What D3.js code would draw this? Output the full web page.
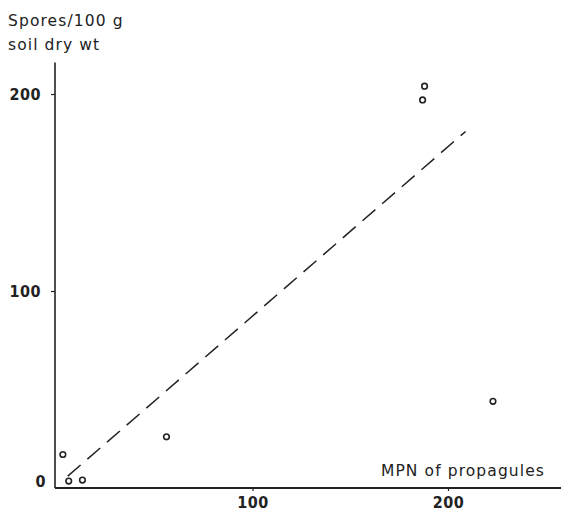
<!DOCTYPE html>
<html lang="en">
<head>
<meta charset="UTF-8">
<title>Spores vs MPN</title>
<style>
	html, body {width: 100%; height: 100%; padding: 0; margin: 0; background: #fff;}
	.title {font-family: "DejaVu Sans", sans-serif; font-size: 15.5px; letter-spacing: 1.1px; fill: #222;}
	.tick text {font-family: "DejaVu Sans Condensed", "Liberation Sans Narrow", sans-serif; font-size: 16px; font-weight: bold; letter-spacing: 0.5px; fill: #222;}
	.tick line {stroke: #222; stroke-width: 1.2px;}
</style>
<script src="https://d3js.org/d3.v7.min.js"></script>
</head>
<body>
<script>
// MPN of propagules (x) vs spores per 100 g soil dry wt (y)
var mpn = [3, 6, 13, 56, 188, 187, 223];
var spores = [17, 3.5, 4, 26, 204, 197, 44];
// regression line end points (data units)
var fitX = [5.5, 209];
var fitY = [6, 181];
var xTicks = [100, 200];
var yTicks = [0, 100, 200];

var width = 561, height = 518;

var svg = d3.select('body').append('svg')
	.attr('width', width)
	.attr('height', height);

var x = d3.scaleLinear().domain([0, 257.8]).range([57, 561]);
var y = d3.scaleLinear().domain([0, 216]).range([488, 62.5]);

// axis lines
svg.append('line')
	.attr('x1', 55).attr('x2', width)
	.attr('y1', y(0)).attr('y2', y(0))
	.attr('stroke', '#222').attr('stroke-width', 1.8);
svg.append('line')
	.attr('x1', 55).attr('x2', 55)
	.attr('y1', y.range()[1]).attr('y2', y(0))
	.attr('stroke', '#222').attr('stroke-width', 1.6);

var xAxis = svg.append('g')
	.attr('transform', 'translate(0,' + y(0) + ')')
	.call(d3.axisBottom(x).tickValues(xTicks).tickSize(3).tickPadding(6).tickFormat(d3.format('d')));
xAxis.select('.domain').remove();

var yAxis = svg.append('g')
	.attr('transform', 'translate(55,0)')
	.call(d3.axisLeft(y).tickValues(yTicks).tickSize(4).tickPadding(10).tickFormat(d3.format('d')));
yAxis.select('.domain').remove();
yAxis.selectAll('.tick').filter(function (d) { return d === 0; }).select('line').remove();
yAxis.selectAll('.tick').filter(function (d) { return d === 0; }).select('text')
	.attr('dy', '-0.1em').attr('x', -9);

// dashed fit line
svg.append('line')
	.attr('x1', x(fitX[0])).attr('y1', y(fitY[0]))
	.attr('x2', x(fitX[1])).attr('y2', y(fitY[1]))
	.attr('stroke', '#222').attr('stroke-width', 1.5)
	.attr('stroke-dasharray', '17,9');

// points
svg.selectAll('.pt')
	.data(mpn.map(function (d, i) { return [d, spores[i]]; }))
	.enter().append('circle')
	.attr('class', 'pt')
	.attr('cx', function (d) { return x(d[0]); })
	.attr('cy', function (d) { return y(d[1]); })
	.attr('r', 2.8)
	.attr('fill', 'none')
	.attr('stroke', '#222')
	.attr('stroke-width', 1.6);

// labels
svg.append('text').attr('class', 'title').attr('x', 8).attr('y', 26).text('Spores/100 g');
svg.append('text').attr('class', 'title').attr('x', 8).attr('y', 50).text('soil dry wt');
svg.append('text').attr('class', 'title').attr('x', 545).attr('y', 476)
	.attr('text-anchor', 'end').text('MPN of propagules');
</script>
</body>
</html>
